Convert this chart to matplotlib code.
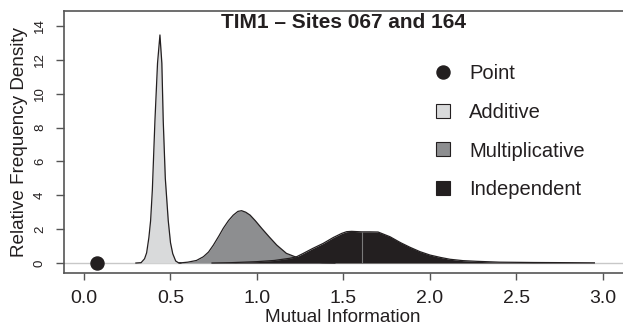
import numpy as np
import matplotlib
matplotlib.use("Agg")
import matplotlib.pyplot as plt
from matplotlib.lines import Line2D

plt.rcParams['font.family'] = ['Liberation Sans', 'DejaVu Sans']

# ---- data ----
point_x = [0.073]
point_y = [0.0]

add_x = [0.30, 0.33, 0.35, 0.362, 0.375, 0.385, 0.395, 0.41, 0.425, 0.439,
         0.45, 0.458, 0.47, 0.487, 0.50, 0.513, 0.53, 0.545, 0.56]
add_y = [0.0, 0.02, 0.25, 0.6, 1.5, 2.5, 4.3, 8.4, 11.8, 13.47,
         11.8, 8.4, 5.0, 2.5, 1.2, 0.55, 0.12, 0.02, 0.0]

mult_x = [0.55, 0.60, 0.65, 0.69, 0.72, 0.748, 0.78, 0.805, 0.835, 0.863, 0.89,
          0.911, 0.935, 0.96, 0.99, 1.027, 1.07, 1.114, 1.17, 1.22, 1.27, 1.32,
          1.38, 1.45]
mult_y = [0.0, 0.05, 0.15, 0.37, 0.65, 1.06, 1.6, 2.05, 2.5, 2.83, 3.05,
          3.09, 3.0, 2.83, 2.5, 2.05, 1.55, 1.06, 0.57, 0.37, 0.2, 0.08,
          0.02, 0.0]

ind_x = [0.74, 0.85, 1.0, 1.1, 1.19, 1.229, 1.268, 1.32, 1.383, 1.44, 1.49,
         1.518, 1.547, 1.605, 1.65, 1.70, 1.769, 1.83, 1.884, 1.942, 2.0,
         2.06, 2.116, 2.19, 2.27, 2.4, 2.6, 2.8, 2.95]
ind_y = [0.0, 0.02, 0.08, 0.15, 0.28, 0.37, 0.57, 0.85, 1.16, 1.5, 1.75,
         1.85, 1.87, 1.84, 1.84, 1.83, 1.55, 1.2, 0.93, 0.67, 0.47,
         0.33, 0.22, 0.14, 0.10, 0.05, 0.03, 0.02, 0.01]
ind_mark_x = 1.605
ind_mark_y = 1.84

labels = ["Point", "Additive", "Multiplicative", "Independent"]
title = "TIM1 \u2013 Sites 067 and 164"
xticks = [0.0, 0.5, 1.0, 1.5, 2.0, 2.5, 3.0]
yticks = [0, 2, 4, 6, 8, 10, 12, 14]

# ---- styles ----
c_dark = '#231f20'
c_add = '#d9dadb'
c_mult = '#8d8e90'
c_base = '#c8c8c8'
c_spine = '#555555'

fig = plt.figure(figsize=(6.23, 3.28), dpi=100)
ax_right_px = 629.2
ax = fig.add_axes([64/623, 1-273/328, (ax_right_px-64)/623, (273-11)/328])
ax.set_xlim(-0.1156, (ax_right_px-84)/173)
ax.set_ylim(-0.59, 14.885)

ax.axhline(0, color=c_base, lw=1.0, zorder=1)

for xs, ys, fc in [(add_x, add_y, c_add), (mult_x, mult_y, c_mult), (ind_x, ind_y, c_dark)]:
    ax.fill_between(xs, ys, 0, color=fc, lw=0, zorder=2)
    ax.plot(xs, ys, color=c_dark, lw=0.9, zorder=2)

ax.vlines(ind_mark_x, 0, ind_mark_y, color='#7a7a7a', lw=0.8, zorder=3)
ax.plot(point_x, point_y, 'o', color=c_dark, markersize=9.4, zorder=4, clip_on=False)

ax.spines['right'].set_visible(False)
for s in ['left', 'top', 'bottom']:
    ax.spines[s].set_color(c_spine)
    ax.spines[s].set_linewidth(1.2)

ax.set_xticks(xticks)
ax.set_xticklabels([f"{t:.1f}" for t in xticks])
ax.set_yticks(yticks)
ax.set_yticklabels([str(t) for t in yticks])
ax.tick_params(axis='x', labelsize=14, length=5, width=1, color=c_spine, pad=7, labelcolor='#231f20')
ax.tick_params(axis='y', labelsize=9.5, length=6, width=1, color=c_spine, pad=7, labelcolor='#231f20')
plt.setp(ax.get_yticklabels(), rotation=90, va='center')

ax.set_xlabel("Mutual Information", fontsize=13.6, color='#231f20')
ax.xaxis.set_label_coords((343 - 64) / (ax_right_px - 64), -0.136)
ax.xaxis.label.set_va('top')
ax.set_ylabel("Relative Frequency Density", fontsize=13.6, labelpad=4, color='#231f20')

ax.text((343.5 - 64) / (ax_right_px - 64), 0.958, title, transform=ax.transAxes,
        ha='center', va='center', fontsize=15, fontweight='bold', color=c_dark)

handles = [
    Line2D([], [], marker='o', ls='none', color=c_dark, markersize=9.4),
    Line2D([], [], marker='s', ls='none', markerfacecolor=c_add, markeredgecolor=c_dark, markersize=10, markeredgewidth=0.8),
    Line2D([], [], marker='s', ls='none', markerfacecolor=c_mult, markeredgecolor=c_dark, markersize=10, markeredgewidth=0.8),
    Line2D([], [], marker='s', ls='none', markerfacecolor=c_dark, markeredgecolor=c_dark, markersize=10, markeredgewidth=0.8),
]
leg = ax.legend(handles, labels, loc='upper left',
                bbox_to_anchor=((433 - 64) / (ax_right_px - 64), 0.796),
                frameon=False, fontsize=14.5, handlelength=1.0, handletextpad=0.8,
                labelspacing=0.97, borderpad=0, borderaxespad=0)
for t in leg.get_texts():
    t.set_color(c_dark)

fig.savefig("out.png", dpi=100)
